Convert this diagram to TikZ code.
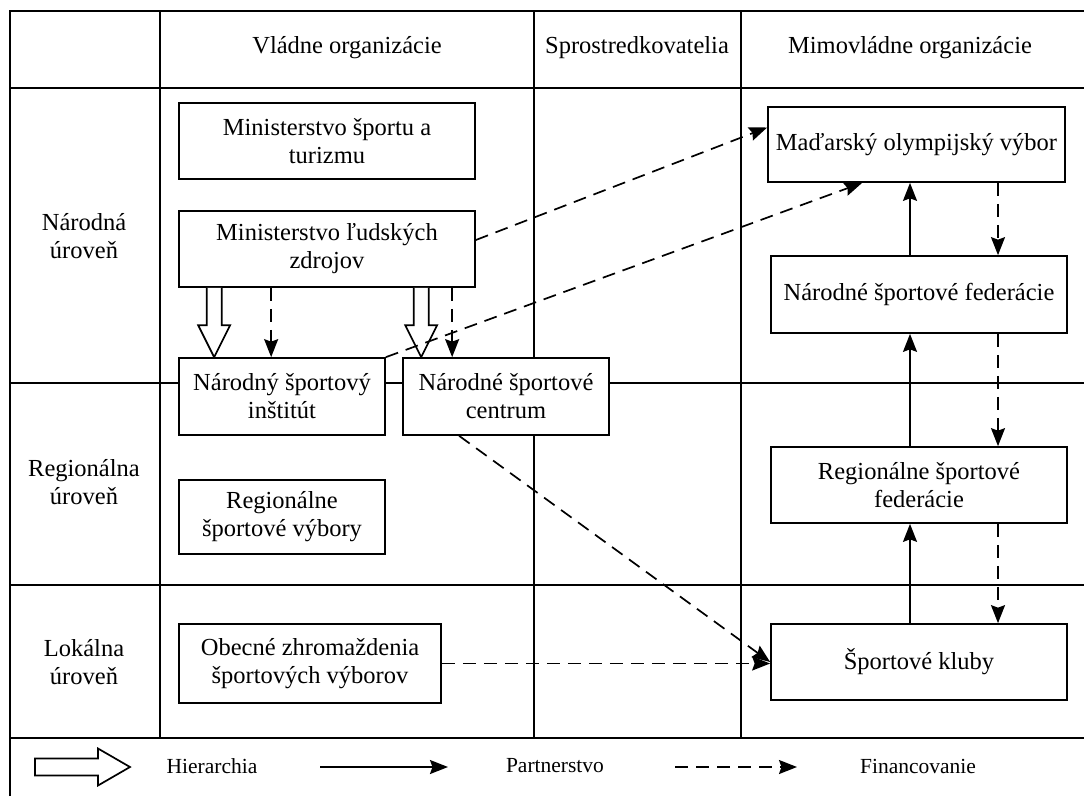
\documentclass[tikz,border=0pt]{standalone}
\usepackage{fontspec}
\setmainfont{Liberation Serif}
\usetikzlibrary{arrows.meta,calc}

% hollow block arrow pointing down, from #1 (tail) to #2 (tip)
\newcommand{\hollowdown}[2]{%
  \draw[hollow] let \p1=(#1), \p2=(#2) in
    (\x1-7.5pt,\y1) -- (\x1-7.5pt,\y2+32pt) -- (\x1-16pt,\y2+32pt) -- (\x1,\y2)
    -- (\x1+16pt,\y2+32pt) -- (\x1+7.5pt,\y2+32pt) -- (\x1+7.5pt,\y1);}
% hollow block arrow pointing right, from #1 (tail) to #2 (tip)
\newcommand{\hollowright}[2]{%
  \draw[hollow] let \p1=(#1), \p2=(#2) in
    (\x1,\y1+8.5pt) -- (\x2-32pt,\y1+8.5pt) -- (\x2-32pt,\y1+18.5pt) -- (\x2,\y1)
    -- (\x2-32pt,\y1-18.5pt) -- (\x2-32pt,\y1-8.5pt) -- (\x1,\y1-8.5pt) -- cycle;}

\begin{document}
\begin{tikzpicture}[x=1pt,y=-1pt,
  grid/.style={line width=1.7pt},
  box/.style={draw,line width=1.7pt,fill=white,align=center,inner sep=0pt,
    font=\fontsize{24.5}{28}\selectfont},
  lbl/.style={align=center,font=\fontsize{24.5}{28}\selectfont},
  leg/.style={font=\fontsize{21.5}{25}\selectfont},
  partner/.style={line width=1.7pt,-{Stealth[length=18pt,width=14pt,inset=2.5pt]}},
  funding/.style={partner,dash pattern=on 13pt off 8pt},
  hollow/.style={line width=1.7pt,fill=white,line join=miter}]
\useasboundingbox (0,0) rectangle (1084,796);

% table frame and grid
\draw[grid] (10,796) -- (10,11) -- (1084,11);
\foreach \yy in {88,383,585,738} \draw[grid] (10,\yy) -- (1084,\yy);
\foreach \xx in {160,534,741} \draw[grid] (\xx,11) -- (\xx,738);

% column headers
\node[lbl] (hGov) at (347,48) {Vládne organizácie};
\node[lbl] (hMid) at (637,48) {Sprostredkovatelia};
\node[lbl] (hNgo) at (910,48) {Mimovládne organizácie};

% row labels
\node[lbl] (rNat) at (84,236) {Národná\\úroveň};
\node[lbl] (rReg) at (84,482) {Regionálna\\úroveň};
\node[lbl] (rLoc) at (84,662) {Lokálna\\úroveň};

% governmental organisations
\node[box,minimum width=296pt,minimum height=76pt] (mst) at (327,141) {Ministerstvo športu a\\turizmu};
\node[box,minimum width=296pt,minimum height=76pt] (mlz) at (327,249) {Ministerstvo ľudských\\zdrojov};
\node[box,minimum width=206pt,minimum height=77pt] (nsi) at (282,396.5) {Národný športový\\inštitút};
\node[box,minimum width=206pt,minimum height=77pt] (nsc) at (506,396.5) {Národné športové\\centrum};
\node[box,minimum width=206pt,minimum height=74pt] (rsv) at (282,517) {Regionálne\\športové výbory};
\node[box,minimum width=262pt,minimum height=79pt] (ozsv) at (310,663.5) {Obecné zhromaždenia\\športových výborov};

% non-governmental organisations
\node[box,minimum width=297pt,minimum height=75pt] (mov) at (916.5,144.5) {Maďarský olympijský výbor};
\node[box,minimum width=296pt,minimum height=77pt] (nsf) at (919,294.5) {Národné športové federácie};
\node[box,minimum width=296pt,minimum height=76pt] (rsf) at (919,485) {Regionálne športové\\federácie};
\node[box,minimum width=296pt,minimum height=76pt] (kluby) at (919,662) {Športové kluby};

% hierarchy
\coordinate (h1) at ($(nsi.north west)+(36,0)$);
\coordinate (h2) at ($(nsc.north west)+(19,0)$);
\hollowdown{mlz.south -| h1}{h1}
\hollowdown{mlz.south -| h2}{h2}

% funding from the ministry
\coordinate (f1) at ($(nsi.north west)+(93,0)$);
\coordinate (f2) at ($(nsc.north west)+(50,0)$);
\draw[funding] (mlz.south -| f1) -- (f1);
\draw[funding] (mlz.south -| f2) -- (f2);
\draw[funding] ($(mlz.east)+(0,-9)$) -- ($(mov.west)+(0,-17)$);
\draw[funding] (nsi.north east) -- ($(mov.south west)+(95,0)$);
\draw[funding] ($(nsc.south west)+(57,0)$) -- (kluby.west);
\draw[funding] (ozsv.east) -- (ozsv.east -| kluby.west);

% partnership (upwards) and funding (downwards) in the sport federations
\coordinate (colP) at (910,0);
\coordinate (colF) at (998,0);
\draw[partner] (nsf.north -| colP) -- (mov.south -| colP);
\draw[partner] (rsf.north -| colP) -- (nsf.south -| colP);
\draw[partner] (kluby.north -| colP) -- (rsf.south -| colP);
\draw[funding] (mov.south -| colF) -- (nsf.north -| colF);
\draw[funding] (nsf.south -| colF) -- (rsf.north -| colF);
\draw[funding] (rsf.south -| colF) -- (kluby.north -| colF);

% legend
\coordinate (lgHa) at (35,767);
\coordinate (lgHb) at (130,767);
\hollowright{lgHa}{lgHb}
\node[leg] (lgH) at (212,766) {Hierarchia};
\coordinate (lgPa) at (320,767);
\coordinate (lgPb) at (448,767);
\draw[partner] (lgPa) -- (lgPb);
\node[leg] (lgP) at (555,766) {Partnerstvo};
\coordinate (lgFa) at (675,767);
\coordinate (lgFb) at (797,767);
\draw[funding] (lgFa) -- (lgFb);
\node[leg] (lgF) at (918,766) {Financovanie};
\end{tikzpicture}
\end{document}
